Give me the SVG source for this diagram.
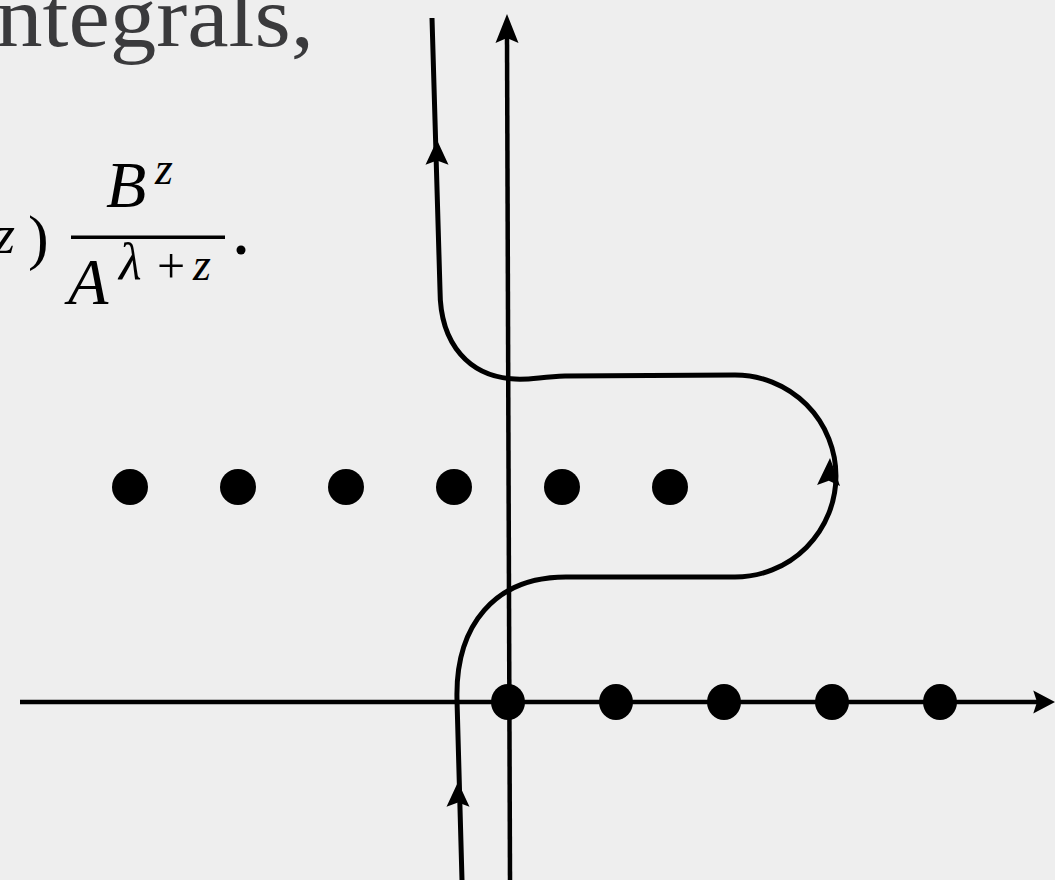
<svg xmlns="http://www.w3.org/2000/svg" width="1055" height="880" viewBox="0 0 1055 880">
<style>
.ax{stroke:#000;stroke-width:4.5;fill:none}
.ct{stroke:#000;stroke-width:5;fill:none;stroke-linejoin:round}
.pole{fill:#000}
.head{fill:#000}
.t{font-family:"Liberation Serif","DejaVu Serif",serif;fill:#3a3a3c}
.m{font-family:"Liberation Serif","DejaVu Serif",serif;fill:#000}
.i{font-style:italic}
</style>
<defs>
<path id="ah" d="M0 0 L-11.5 29 L0 24 L11.5 29 Z"/>
</defs>
<rect width="1055" height="880" fill="#eeeeee"/>
<g id="text">
<text class="t" x="-4" y="46" font-size="86" textLength="318" lengthAdjust="spacingAndGlyphs">ntegrals,</text>
<text class="m i" x="-6" y="253" font-size="54">z</text>
<text class="m" x="28" y="258" font-size="62">)</text>
<rect x="71" y="235.5" width="154" height="3.5" fill="#000"/>
<text class="m i" x="106" y="207" font-size="66">B</text>
<text class="m i" x="155" y="184" font-size="46">z</text>
<text class="m i" x="68" y="304" font-size="66">A</text>
<text class="m i" x="119" y="279" font-size="52">λ</text>
<text class="m" x="157" y="283" font-size="50">+</text>
<text class="m i" x="193" y="280" font-size="46">z</text>
<circle cx="241" cy="250" r="4.5" fill="#000"/>
</g>
<g id="connectors">
<path class="ax" d="M510 880 L507 36"/>
<use href="#ah" class="head" transform="translate(507,14)"/>
<path class="ax" d="M20 702 L1038 702"/>
<use href="#ah" class="head" transform="translate(1055,702) rotate(90) scale(1,0.75)"/>
<path class="ct" d="M462 880 L457 700 C455 625 495 577 566 577 L735 577 A101 101 0 0 0 735 375 L565 376 C540 377 530 380 515 379 C470 377 440 345 440 290 L432 18"/>
<use href="#ah" class="head" transform="translate(437,140) scale(1,0.85)"/>
<use href="#ah" class="head" transform="translate(458,782) scale(1,0.85)"/>
<use href="#ah" class="head" transform="translate(830,458) rotate(3) scale(1,0.95)"/>
</g>
<g id="poles">
<circle class="pole" cx="130" cy="487" r="18"/>
<circle class="pole" cx="238" cy="487" r="18"/>
<circle class="pole" cx="346" cy="487" r="18"/>
<circle class="pole" cx="454" cy="487" r="18"/>
<circle class="pole" cx="562" cy="487" r="18"/>
<circle class="pole" cx="670" cy="487" r="18"/>
<ellipse class="pole" cx="508" cy="702" rx="17" ry="18"/>
<ellipse class="pole" cx="616" cy="702" rx="17" ry="18"/>
<ellipse class="pole" cx="724" cy="702" rx="17" ry="18"/>
<ellipse class="pole" cx="832" cy="702" rx="17" ry="18"/>
<ellipse class="pole" cx="940" cy="702" rx="17" ry="18"/>
</g>
</svg>
